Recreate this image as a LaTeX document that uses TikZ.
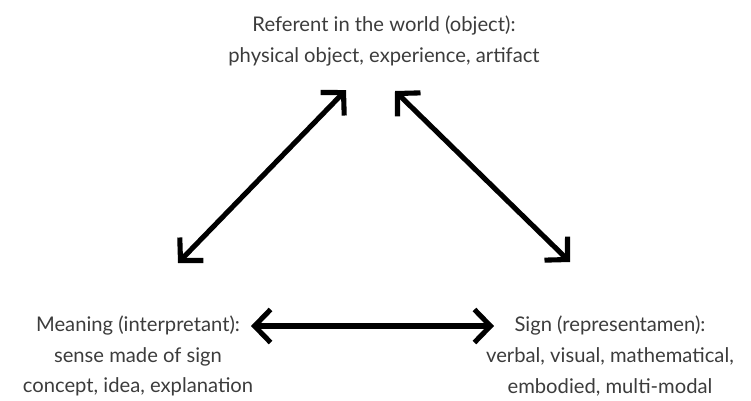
\documentclass[tikz,border=0pt]{standalone}
\usepackage{fontspec}
\setmainfont{Lato}
\usetikzlibrary{arrows.meta}
\definecolor{textgrey}{HTML}{3C3C3C}
\begin{document}
\begin{tikzpicture}[x=0.02cm, y=-0.02cm,
    lbl/.style={align=center, text=textgrey, font=\fontsize{11.5pt}{17.5pt}\selectfont, inner sep=0pt},
    link/.style={line width=2.9pt, {Straight Barb[length=0.32cm, width=0.66cm]}-{Straight Barb[length=0.32cm, width=0.66cm]}}]
    \useasboundingbox (0,0) rectangle (751,400);

    % Corners of the triangle
    \node[lbl] (referent) at (384,41) {Referent in the world (object):\\physical object, experience, artifact};
    \node[lbl] (meaning) at (138,356) {Meaning (interpretant):\\sense made of sign\\concept, idea, explanation};
    \node[lbl] (sign) at (610,356) {Sign (representamen):\\verbal, visual, mathematical,\\embodied, multi-modal};

    % Arrow ends
    \coordinate (ml) at (178,263);
    \coordinate (rl) at (346,90);
    \coordinate (rr) at (395,91);
    \coordinate (sr) at (570,262);
    \coordinate (mh) at (251,326);
    \coordinate (sh) at (494,326);

    % Connections
    \draw[link] (ml) -- (rl);
    \draw[link] (rr) -- (sr);
    \draw[link] (mh) -- (sh);
\end{tikzpicture}
\end{document}
